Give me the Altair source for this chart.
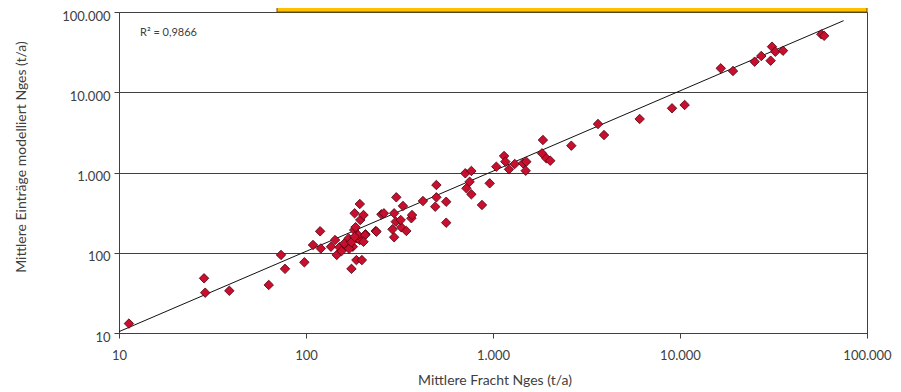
import altair as alt
import pandas as pd

# Mittlere Fracht Nges (t/a)  vs  Mittlere Einträge modelliert Nges (t/a)
fracht = [11.3, 28.5, 28.9, 38.9, 63.2, 73.5, 77.2, 98, 109, 119, 120, 136, 143, 146, 151,
          164, 169, 175, 178, 181, 182, 186, 188, 194, 195, 194, 199, 203, 208, 236, 253,
          261, 296, 304, 302, 290, 296, 323, 330, 344, 366, 369, 422, 498, 498, 491, 562,
          562, 184, 190, 207, 238, 321, 155, 160, 170, 175, 203, 182,
          711, 766, 750, 721, 766, 873, 960, 1042, 1146, 1165, 1218, 1307, 1447, 1507,
          1496, 1849, 1828, 1928, 2024, 2623, 3643, 3923, 6085, 9065, 10590, 16520,
          19200, 25060, 27200, 30530, 31050, 32340, 35560, 57000, 59000]
eintrag = [13.1, 48, 31.8, 33.6, 39.7, 94, 63, 76, 125, 185, 113, 119, 144, 94, 117,
           122, 151, 63, 119, 192, 310, 81, 151, 405, 256, 144, 81, 295, 170, 187, 301,
           310, 310, 491, 244, 196, 156, 208, 383, 187, 269, 295, 441, 698, 491, 375, 432,
           237, 208, 166, 166, 183, 256, 105, 130, 112, 135, 137, 158,
           977, 1045, 767, 635, 535, 394, 733, 1181, 1606, 1365, 1096, 1277, 1303, 1365,
           1052, 2541, 1733, 1503, 1403, 2158, 4018, 2929, 4645, 6310, 6940, 19850,
           18400, 24040, 28300, 24740, 36980, 32000, 32950, 52700, 50500]

trend_x = [10, 75000]
trend_y = [10.4, 78000]

tick_values = [10, 100, 1000, 10000, 100000]
r2_text = "R² = 0,9866"
x_title = "Mittlere Fracht Nges (t/a)"
y_title = "Mittlere Einträge modelliert Nges (t/a)"

df = pd.DataFrame({"x": fracht, "y": eintrag})
tdf = pd.DataFrame({"x": trend_x, "y": trend_y})
one = pd.DataFrame({"a": [0]})

FONT = "Lato"
TXT = "#404040"
label_expr = "replace(format(datum.value, ','), ',', '.')"

x_enc = alt.X("x:Q",
              scale=alt.Scale(type="log", domain=[10, 100000], nice=False),
              axis=alt.Axis(values=tick_values, labelExpr=label_expr, title=None, grid=False,
                            tickSize=5, labelPadding=11, labelFont=FONT, labelFontSize=13,
                            labelColor=TXT, domainColor=TXT, tickColor=TXT, labelFlush=False))
y_enc = alt.Y("y:Q",
              scale=alt.Scale(type="log", domain=[10, 100000], nice=False),
              axis=alt.Axis(values=tick_values, labelExpr=label_expr, title=None, grid=True,
                            gridColor=TXT, gridWidth=1, gridOpacity=1, labelOffset=4,
                            tickSize=5, labelPadding=4, labelFont=FONT, labelFontSize=13,
                            labelColor=TXT, domainColor=TXT, tickColor=TXT, labelFlush=False))

trend = alt.Chart(tdf).mark_line(color="#111111", strokeWidth=1).encode(x=x_enc, y=y_enc)

points = alt.Chart(df).mark_point(shape="diamond", filled=True, fill="#C8102E",
                                  stroke="#4a0010", strokeWidth=0.8, size=90,
                                  opacity=1).encode(x=x_enc, y=y_enc)

box = alt.Chart(one).mark_rect(fill="#FFC000", stroke="#6b5000", strokeWidth=1).encode(
    x=alt.value(158), x2=alt.value(748), y=alt.value(-6), y2=alt.value(0))

r2 = alt.Chart(one).mark_text(text=r2_text, align="left", baseline="middle", font=FONT,
                              fontSize=11, color=TXT).encode(x=alt.value(21), y=alt.value(21))

xt = alt.Chart(one).mark_text(text=x_title, align="center", baseline="middle", font=FONT,
                              fontSize=14, color=TXT).encode(x=alt.value(376), y=alt.value(369))

yt = alt.Chart(one).mark_text(text=y_title, align="center", baseline="middle", font=FONT,
                              fontSize=14, color=TXT, angle=270).encode(x=alt.value(-97),
                                                                         y=alt.value(145))

chart = alt.layer(trend, points, box, r2, xt, yt).properties(
    width=748, height=321,
    autosize=alt.AutoSizeParams(type="none"),
    padding={"left": 111, "top": 4, "right": 26, "bottom": 59},
).configure_view(stroke=TXT, strokeWidth=1)

chart.save("out.html", embed_options={"renderer": "svg", "actions": False})
